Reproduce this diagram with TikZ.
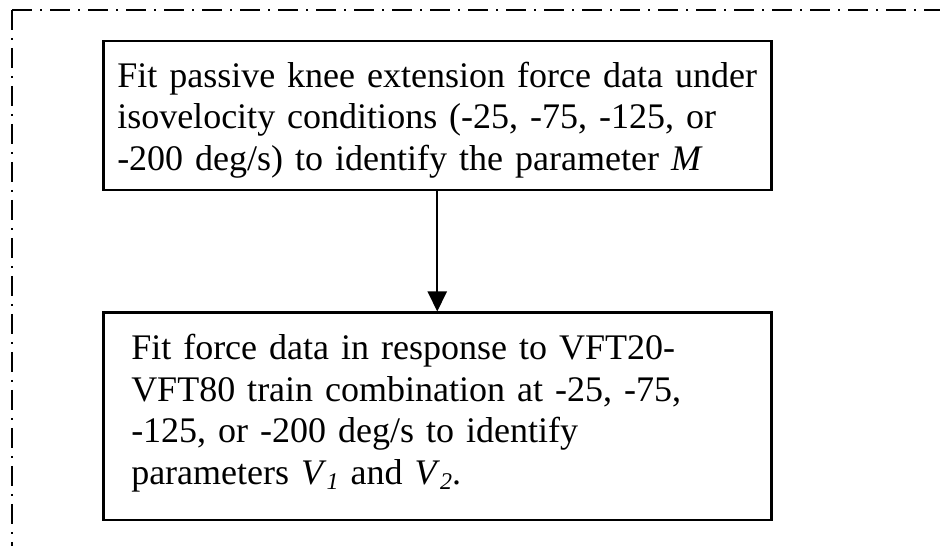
\documentclass[tikz,border=0pt]{standalone}
\usepackage{fontspec}
\setmainfont{Liberation Serif}
\usetikzlibrary{positioning,arrows.meta}

\newcommand{\lowidx}[1]{\raisebox{-0.14em}{\fontsize{24}{24}\selectfont\textit{#1}}}

\tikzset{
  fitbox/.style={draw, line width=2.5pt, inner ysep=0pt, align=left, anchor=north west,
    font=\fontsize{36}{41.5}\selectfont},
  frameline/.style={line width=1.8pt, dash pattern=on 20pt off 8pt on 2pt off 8pt},
}

\begin{document}
\begin{tikzpicture}[x=1pt,y=1pt]
\useasboundingbox (0,0) rectangle (940,546);

% Frame
\coordinate (corner) at (12,536);
\coordinate (frameB) at (12,0);
\coordinate (frameR) at (940,536);
\draw[frameline] (corner) -- (frameB);
\draw[frameline] (corner) -- (frameR);

% Steps
\node[fitbox, inner xsep=14pt, text width=640pt, text height=46pt, text depth=103pt] (fitM) at (102,506)
  {Fit passive knee extension force data under\\
   isovelocity conditions (-25, -75, -125, or\\
   -200 deg/s) to identify the parameter \textit{M}};
\node[fitbox, below=120pt of fitM, inner xsep=28pt, text width=612pt, text height=47pt, text depth=160.5pt] (fitV)
  {Fit force data in response to VFT20-\\
   VFT80 train combination at -25, -75,\\
   -125, or -200 deg/s to identify\\
   parameters \textit{V}\lowidx{1} and \textit{V}\lowidx{2}.};

% Arrow
\draw[-{Triangle[length=20pt,width=19pt]}, line width=2pt] (fitM) -- (fitV);
\end{tikzpicture}
\end{document}
